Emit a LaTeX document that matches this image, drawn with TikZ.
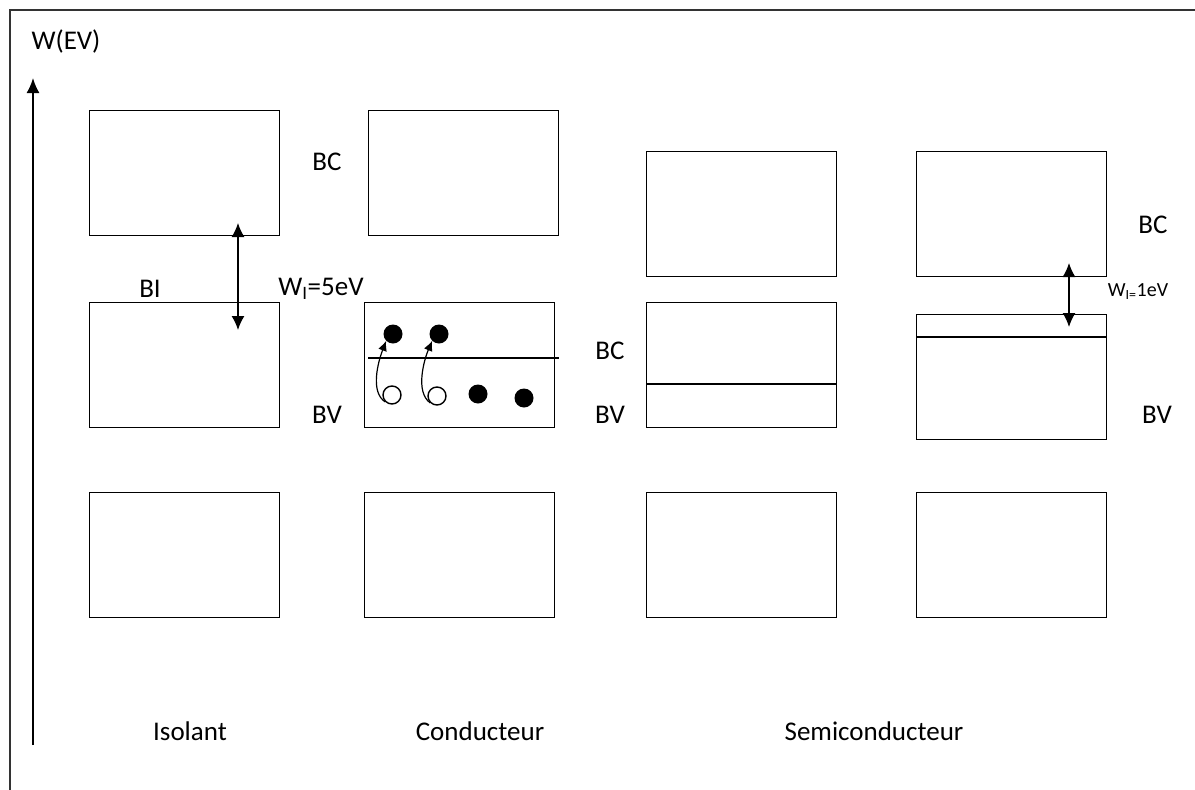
\documentclass[tikz,border=0pt]{standalone}
\usepackage{fontspec}
\setmainfont{Carlito}
\usetikzlibrary{arrows.meta}
\tikzset{
  band/.style={draw, line width=1.4pt, minimum width=190pt, minimum height=125pt, anchor=north west, inner sep=0pt},
  lbl/.style={font=\fontsize{27}{30}\selectfont, inner sep=0pt},
  smlbl/.style={font=\fontsize{20}{23}\selectfont, inner sep=0pt},
  dbl/.style={line width=1.4pt, {Latex[length=14pt,width=13pt]}-{Latex[length=14pt,width=13pt]}},
  full/.style={circle, fill=black, minimum size=19pt, inner sep=0pt},
  hole/.style={circle, draw, line width=1.4pt, minimum size=18pt, inner sep=0pt},
  jump/.style={line width=1.2pt, -{Latex[length=10pt,width=9pt]}},
}
\begin{document}
\begin{tikzpicture}[x=1pt,y=-1pt]
\useasboundingbox (0,0) rectangle (1195,790);
% frame
\coordinate (fbl) at (10,790);
\coordinate (ftl) at (10,10);
\coordinate (ftr) at (1195,10);
\draw[line width=1.8pt, black!80] (fbl) -- (ftl) -- (ftr);
% axis
\coordinate (ax0) at (33,745);
\coordinate (ax1) at (33,78);
\draw[line width=1.8pt, -{Latex[length=15pt,width=13pt]}] (ax0) -- (ax1);
\node[lbl] (wev) at (66,41) {W(EV)};

% Isolant
\node[band] (i1) at (89,110) {};
\node[band] (i2) at (89,302) {};
\node[band] (i3) at (89,492) {};
% Conducteur
\node[band] (c1) at (368,110) {};
\node[band] (c2) at (364,302) {};
\node[band] (c3) at (364,492) {};
\coordinate (cl0) at (368,358);
\coordinate (cl1) at (559,358);
\draw[line width=1.4pt] (cl0) -- (cl1);
% Semiconducteur 1
\node[band] (s1) at (646,151) {};
\node[band] (s2) at (646,302) {};
\node[band] (s3) at (646,492) {};
\draw[line width=1.4pt] (s2.west |- 0,384) -- (s2.east |- 0,384);
% Semiconducteur 2
\node[band] (t1) at (916,151) {};
\node[band] (t2) at (916,314) {};
\node[band] (t3) at (916,492) {};
\draw[line width=1.4pt] (t2.west |- 0,337) -- (t2.east |- 0,337);

% gap arrows
\coordinate (ga0) at (238,223);
\coordinate (ga1) at (238,330);
\draw[dbl] (ga0) -- (ga1);
\coordinate (gb0) at (1069,263);
\coordinate (gb1) at (1069,327);
\draw[dbl] (gb0) -- (gb1);

% electrons and holes
\node[full] (e1) at (393,334) {};
\node[full] (e2) at (439,334) {};
\node[full] (e3) at (478,394) {};
\node[full] (e4) at (524,398) {};
\node[hole] (h1) at (392,395) {};
\node[hole] (h2) at (437,396) {};
\draw[jump] (h1.south west) .. controls (370,392) and (378,362) .. (e1.south west);
\draw[jump] (h2.south west) .. controls (415,392) and (424,360) .. (e2.south west);

% labels
\node[lbl] (bc1) at (327,162) {BC};
\node[lbl] (bi) at (150,289) {BI};
\node[lbl] (wi5) at (321,289) {W\textsubscript{I}=5eV};
\node[lbl] (bv1) at (327,415) {BV};
\node[lbl] (bc2) at (610,351) {BC};
\node[lbl] (bv2) at (610,415) {BV};
\node[lbl] (bc3) at (1153,225) {BC};
\node[smlbl] (wi1) at (1138,292) {W\textsubscript{I=}1eV};
\node[lbl] (bv3) at (1157,415) {BV};
\node[lbl] (iso) at (190,731) {Isolant};
\node[lbl] (cond) at (480,731) {Conducteur};
\node[lbl] (semi) at (874,731) {Semiconducteur};
\end{tikzpicture}
\end{document}
